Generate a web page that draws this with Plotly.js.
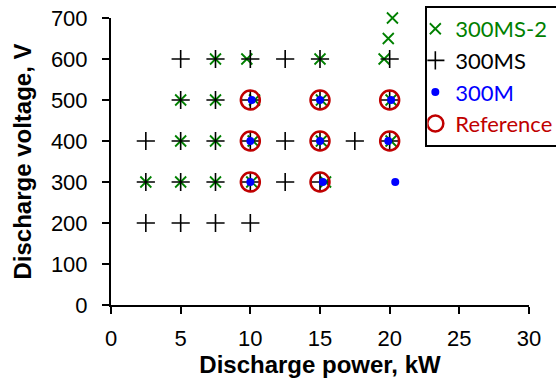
<!DOCTYPE html>
<html><head><meta charset="utf-8">
<script src="https://cdn.plot.ly/plotly-3.0.1.min.js"></script>
<style>html,body{margin:0;padding:0;background:#fff}#c{width:556px;height:383px}</style>
</head><body><div id="c"></div>
<script>
// 300MS-2 (green crosses)
const ms2X = [20.2, 19.9, 7.5, 9.75, 15, 19.6, 5, 7.5, 10.3, 15.1, 20.1, 5, 7.5, 10.2, 15.1, 20.1, 2.5, 5, 7.5, 10.1, 15.4];
const ms2Y = [700, 650, 600, 600, 600, 600, 500, 500, 500, 500, 500, 400, 400, 400, 400, 400, 300, 300, 300, 300, 300];
// 300MS (black plus)
const msX = [5, 7.5, 10, 12.5, 15, 20, 5, 7.5, 10, 15, 20, 2.5, 5, 7.5, 10, 12.5, 15, 17.5, 20, 2.5, 5, 7.5, 10, 12.5, 15, 2.5, 5, 7.5, 10];
const msY = [600, 600, 600, 600, 600, 600, 500, 500, 500, 500, 500, 400, 400, 400, 400, 400, 400, 400, 400, 300, 300, 300, 300, 300, 300, 200, 200, 200, 200];
// 300M (blue dots)
const mX = [10.1, 15, 20.1, 10, 15, 19.9, 10, 15.2, 20.4];
const mY = [500, 500, 500, 400, 400, 400, 300, 300, 300];
// Reference (red open circles)
const refX = [10, 15, 20, 10, 15, 20, 10, 15];
const refY = [500, 500, 500, 400, 400, 400, 300, 300];

const names = ['300MS-2', '300MS', '300M', 'Reference'];
const colors = ['#008000', '#000000', '#0000ff', '#c00000'];

const xTicks = [0, 5, 10, 15, 20, 25, 30];
const yTicks = [0, 100, 200, 300, 400, 500, 600, 700];

function lbl(i){ return '<span style="color:' + colors[i] + '">' + names[i] + '</span>'; }

const traces = [
  {x: ms2X, y: ms2Y, name: lbl(0), type: 'scatter', mode: 'markers', cliponaxis: false,
   marker: {symbol: 'x-thin', size: 11, color: colors[0], line: {color: colors[0], width: 1.8}}},
  {x: msX, y: msY, name: lbl(1), type: 'scatter', mode: 'markers', cliponaxis: false,
   marker: {symbol: 'cross-thin', size: 13, color: colors[1], line: {color: colors[1], width: 1.6}}},
  {x: mX, y: mY, name: lbl(2), type: 'scatter', mode: 'markers', cliponaxis: false,
   marker: {symbol: 'circle', size: 8, color: colors[2]}},
  {x: refX, y: refY, name: lbl(3), type: 'scatter', mode: 'markers', cliponaxis: false,
   marker: {symbol: 'circle-open', size: 19, color: colors[3], line: {color: colors[3], width: 2.5}}}
];

const layout = {
  width: 556, height: 383,
  margin: {l: 111, r: 27, t: 18, b: 78, autoexpand: false},
  paper_bgcolor: '#fff', plot_bgcolor: '#fff',
  font: {family: 'Liberation Sans, Arial, sans-serif', size: 22, color: '#000'},
  showlegend: true,
  legend: {x: 0.752, xanchor: 'left', y: 1.042, yanchor: 'top', bordercolor: '#000', borderwidth: 2,
           bgcolor: '#fff', font: {family: 'Lato, sans-serif', size: 22}, traceorder: 'normal',
           itemwidth: 30, indentation: -12},
  xaxis: {range: [0, 30], autorange: false, tickvals: xTicks, ticktext: xTicks.map(String),
          showgrid: false, zeroline: false, showline: true, linecolor: '#000', linewidth: 2,
          ticks: 'outside', ticklen: 7, tickwidth: 2, tickcolor: '#000', ticklabelstandoff: 6,
          tickfont: {size: 22},
          title: {text: 'Discharge power, kW', font: {size: 24, family: 'Liberation Sans, Arial, sans-serif', weight: 'bold'}, standoff: 6}},
  yaxis: {range: [0, 700], autorange: false, tickvals: yTicks, ticktext: yTicks.map(String),
          showgrid: false, zeroline: false, showline: true, linecolor: '#000', linewidth: 2,
          ticks: 'outside', ticklen: 7, tickwidth: 2, tickcolor: '#000', ticklabelstandoff: 10,
          tickfont: {size: 22},
          title: {text: 'Discharge voltage, V', font: {size: 24, family: 'Liberation Sans, Arial, sans-serif', weight: 'bold'}, standoff: 12}}
};

Plotly.newPlot('c', traces, layout, {displayModeBar: false, staticPlot: true});
</script>
</body></html>
